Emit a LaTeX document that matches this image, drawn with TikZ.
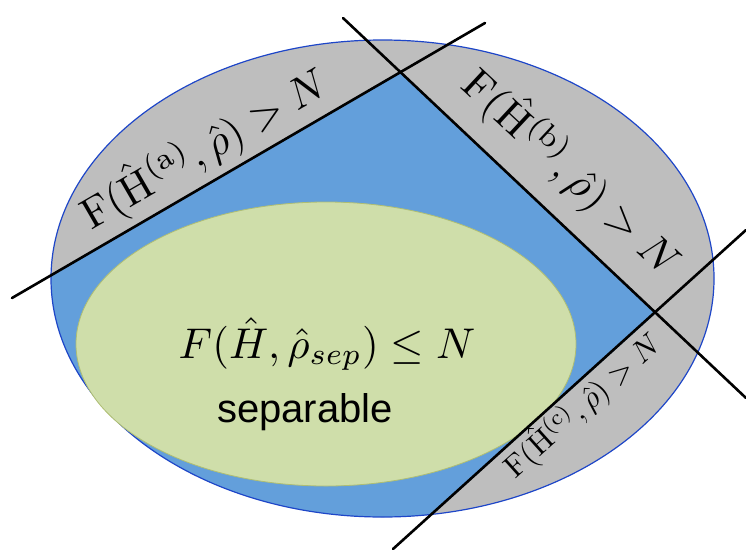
\documentclass[tikz,border=0pt]{standalone}
\usepackage{fontspec}
\newfontfamily\labelsans{Liberation Sans}
\definecolor{bandgray}{RGB}{190,190,190}
\definecolor{midblue}{RGB}{99,159,219}
\definecolor{rimblue}{RGB}{30,70,200}
\definecolor{sepgreen}{RGB}{207,222,170}
\definecolor{seprim}{RGB}{175,190,115}
\tikzset{
  cutline/.style={line width=2.6pt, black, line cap=round},
  bandlabel/.style={inner sep=0pt, anchor=center},
}
\begin{document}
\begin{tikzpicture}[x=1pt,y=-1pt]
\useasboundingbox (0,0) rectangle (746,554);
% named coordinates
\coordinate (C) at (382.5,278.5);
\coordinate (G) at (326,344);
\coordinate (a1) at (12,298);
\coordinate (a2) at (485,23);
\coordinate (b1) at (343,18);
\coordinate (b2) at (746,398);
\coordinate (c1) at (393,549);
\coordinate (c2) at (746,230);
\coordinate (ab) at (400,72);
\coordinate (bc) at (656,313);
% outer set
\fill[bandgray] (C) ellipse [x radius=331.5, y radius=238.5];
\begin{scope}
  \clip (C) ellipse [x radius=331.5, y radius=238.5];
  \fill[midblue] (ab) -- (bc) -- (40,868) -- (-461,868) -- (-461,573) -- cycle;
\end{scope}
\draw[rimblue, line width=1.2pt] (C) ellipse [x radius=331.5, y radius=238.5];
% separable set
\fill[sepgreen, draw=seprim, line width=0.8pt] (G) ellipse [x radius=250, y radius=142];
% cutting lines
\draw[cutline] (a1) -- (a2);
\draw[cutline] (b1) -- (b2);
\draw[cutline] (c1) -- (c2);
% labels
\node[bandlabel, rotate=30, scale=4.3] (la) at (204,148)
  {$\mathrm{F}(\hat{\mathrm{H}}^{(\mathrm{a})},\hat{\rho})>N$};
\node[bandlabel, rotate=-43, scale=4.3] (lb) at (572,172)
  {$\mathrm{F}(\hat{\mathrm{H}}^{(\mathrm{b})},\hat{\rho})>N$};
\node[bandlabel, rotate=42, scale=3.1] (lc) at (582,405)
  {$\mathrm{F}(\hat{\mathrm{H}}^{(\mathrm{c})},\hat{\rho})>N$};
\node[inner sep=0pt, anchor=base, scale=4.3] (ls) at (327,358)
  {$F(\hat{H},\hat{\rho}_{sep})\leq N$};
\node[inner sep=0pt, anchor=base, scale=4.0] (lsep) at (305,422)
  {\labelsans separable};
\end{tikzpicture}
\end{document}
